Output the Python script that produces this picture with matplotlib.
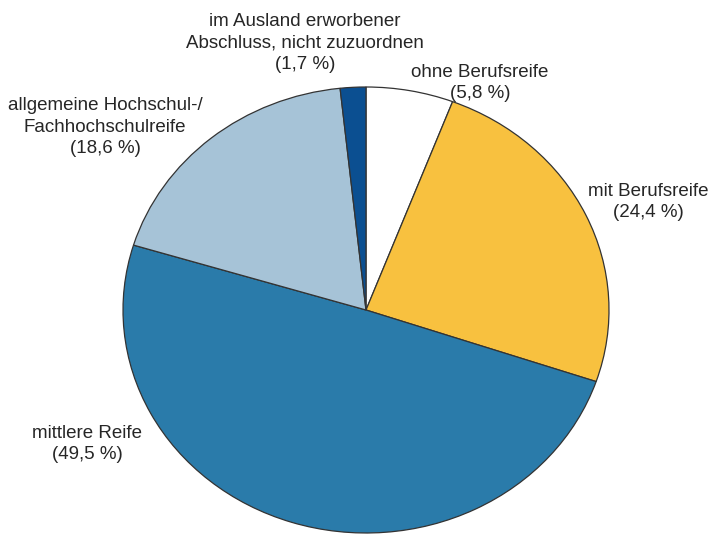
import matplotlib.pyplot as plt

categories = ["ohne Berufsreife", "mit Berufsreife", "mittlere Reife",
              "allgemeine Hochschul-/\nFachhochschulreife",
              "im Ausland erworbener\nAbschluss, nicht zuzuordnen"]
shares = [5.8, 24.4, 49.5, 18.6, 1.7]
colors = ["#FFFFFF", "#F8C13F", "#2A7BAA", "#A6C3D7", "#0B4F91"]

# label anchor points in figure pixels (x, y from top)
label_pos = [(480, 83), (648, 202), (87, 444), (105, 127), (305, 43)]

W, H = 713, 535
fig = plt.figure(figsize=(W / 100, H / 100), dpi=100)
plt.rcParams['font.family'] = ['Liberation Sans', 'DejaVu Sans']

# pie is slightly squashed vertically in the reference
ax = fig.add_axes([123 / W, (H - 533) / H, 486 / W, 446 / H])
ax.pie(shares, colors=colors, startangle=90, counterclock=False,
       wedgeprops=dict(edgecolor="#333333", linewidth=0.9))
ax.set_aspect('auto')
ax.set_xlim(-1, 1)
ax.set_ylim(-1, 1)
ax.axis('off')

for name, val, (px, py) in zip(categories, shares, label_pos):
    txt = f"{name}\n({val:.1f} %)".replace(".", ",")
    fig.text(px / W, 1 - py / H, txt, ha="center", va="center",
             fontsize=13.5, color="#262626", linespacing=1.38)

plt.savefig("out.png", dpi=100)
plt.close()
